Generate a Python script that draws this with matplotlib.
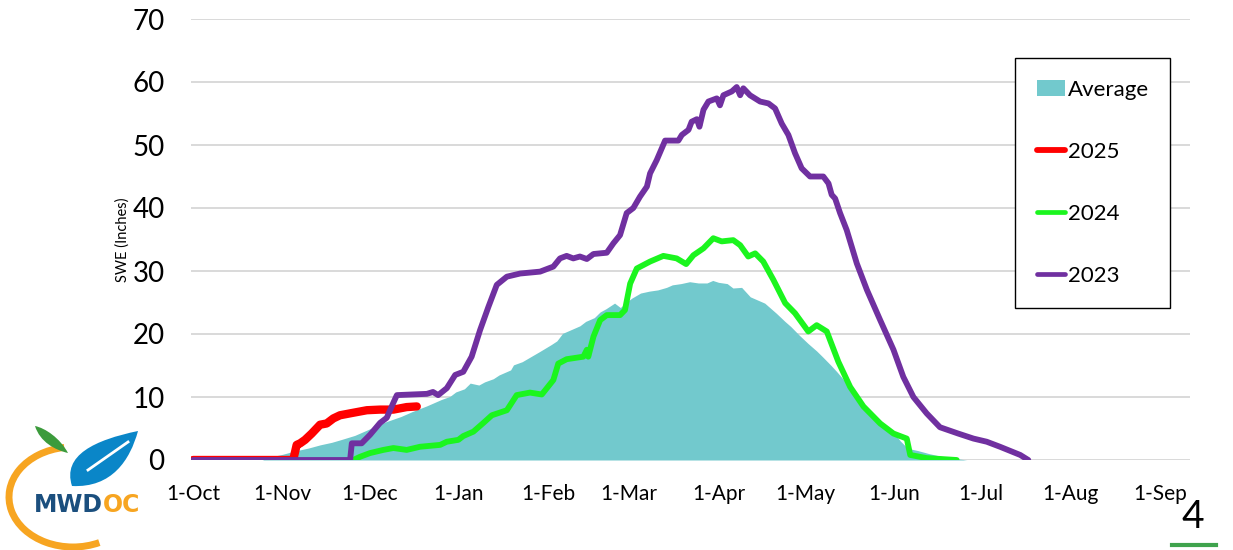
import matplotlib
matplotlib.use("Agg")
import matplotlib.pyplot as plt
from matplotlib.patches import Patch, Arc, PathPatch
from matplotlib.path import Path
from matplotlib.lines import Line2D

# days since 1-Oct
tick_days = [0, 31, 61, 92, 123, 151, 182, 212, 243, 273, 304, 335]
tick_labels = ["1-Oct", "1-Nov", "1-Dec", "1-Jan", "1-Feb", "1-Mar",
               "1-Apr", "1-May", "1-Jun", "1-Jul", "1-Aug", "1-Sep"]

avg_days = [0, 24, 27, 31, 35, 40, 44, 48, 51, 56, 60, 64, 67, 72, 76, 81, 86, 89,
            91, 94, 96, 99, 101, 104, 106, 110, 111, 114, 117, 120, 124, 126, 128,
            130, 132, 134, 136, 139, 141, 143, 146, 148, 150, 152, 155, 158, 161,
            164, 166, 169, 172, 175, 178, 180, 182, 185, 187, 190, 193, 196, 198,
            202, 205, 207, 210, 213, 216, 218, 221, 223, 226, 228, 230, 232, 235,
            237, 240, 243, 245, 247, 249, 251, 255, 259, 263, 268, 345]
avg_swe = [0, 0, 0.5, 0.9, 1.4, 1.9, 2.4, 2.8, 3.2, 3.9, 4.7, 5.5, 6.1, 6.9, 7.7, 8.6,
           9.6, 10.1, 10.8, 11.3, 12.2, 11.9, 12.4, 12.9, 13.5, 14.3, 15.1, 15.6,
           16.4, 17.2, 18.3, 18.9, 20.1, 20.5, 20.9, 21.3, 22.0, 22.6, 23.5, 24.0,
           24.9, 24.2, 25.0, 25.7, 26.5, 26.8, 27.0, 27.4, 27.8, 28.0, 28.3, 28.1,
           28.1, 28.5, 28.2, 28.0, 27.3, 27.4, 25.9, 25.3, 24.9, 23.3, 22.0, 21.2,
           19.8, 18.5, 17.3, 16.4, 15.0, 14.0, 12.4, 11.6, 10.2, 9.0, 7.5, 6.6, 5.2,
           4.2, 3.0, 2.1, 1.7, 1.5, 1.0, 0.6, 0.3, 0, 0]

wy2025_days = [0, 34.7, 35.9, 37.1, 38.8, 41.1, 44.0, 46.3, 48.6, 50.9, 55.5, 60.2,
               64.8, 69.4, 74.0, 77.5]
wy2025_swe = [0, 0, 2.4, 2.65, 3.2, 4.2, 5.6, 5.8, 6.6, 7.1, 7.5, 7.9, 8.0, 8.0,
              8.4, 8.5]

wy2024_days = [55.5, 57.8, 61.3, 65.9, 69.4, 74.0, 78.6, 85.6, 87.9, 91.9, 93.6, 97.1,
               100.6, 103.5, 108.7, 112.1, 116.7, 120.8, 124.8, 126.5, 129.4, 135.2,
               136.4, 136.9, 138.7, 141, 143.3, 147.9, 149.6, 151.4, 153.7, 158.3,
               162.9, 167.5, 170.8, 173.3, 176.8, 180.2, 183.1, 187.1, 189.5, 192.3,
               194.7, 197.5, 201.0, 205.1, 208.5, 213.1, 216.0, 219.5, 223.5, 227.6,
               232.2, 238.0, 242.6, 247.2, 248.4, 254.1, 264.5]
wy2024_swe = [0, 0.5, 1.1, 1.6, 1.9, 1.6, 2.1, 2.4, 2.9, 3.2, 3.8, 4.5, 5.9, 7.1, 7.9,
              10.3, 10.7, 10.4, 12.7, 15.3, 16.0, 16.4, 17.5, 16.4, 19.6, 22.2, 23.0,
              23.0, 23.8, 28.0, 30.4, 31.5, 32.4, 32.0, 31.1, 32.5, 33.6, 35.2, 34.7,
              34.9, 34.1, 32.3, 32.8, 31.5, 28.6, 24.9, 23.3, 20.4, 21.4, 20.4, 15.6,
              11.6, 8.5, 5.8, 4.2, 3.4, 0.8, 0.3, 0]

wy2023_days = [0, 54.4, 55, 58.4, 61.3, 64.8, 67.1, 69.3, 70.6, 81, 83.1, 84.9, 87.9,
               90.8, 93.6, 96.5, 99.4, 102.3, 105.2, 108.7, 113.3, 120.2, 124.8, 127.1,
               129.4, 131.7, 134, 136.4, 138.7, 143.3, 145.6, 147.9, 150.2, 152.5,
               154.8, 157.2, 158.3, 160.6, 163.5, 168.1, 169.3, 171.6, 172.7, 174.5,
               175.4, 176.8, 178.5, 181.4, 182.5, 183.7, 186.6, 188.3, 189.5, 190.6,
               192.9, 196.4, 199.3, 201.6, 203.9, 206.2, 208.5, 210.8, 213.7, 218.3,
               220.1, 221.2, 222.4, 224.1, 226.4, 229.9, 233.4, 238.0, 242.6, 246.0,
               249.5, 254.1, 258.7, 265, 270.3, 274.9, 279.5, 286.5, 289.3]
wy2023_swe = [0, 0, 2.65, 2.65, 4.0, 5.9, 6.7, 9.0, 10.3, 10.5, 10.8, 10.3, 11.4,
              13.5, 14.0, 16.4, 20.6, 24.3, 27.8, 29.1, 29.6, 29.9, 30.7, 32.0, 32.4,
              32.0, 32.3, 31.9, 32.7, 32.9, 34.4, 35.7, 39.2, 40.0, 41.8, 43.4, 45.5,
              47.6, 50.7, 50.7, 51.6, 52.4, 53.7, 54.1, 52.9, 55.6, 56.9, 57.4, 56.3,
              57.9, 58.5, 59.2, 57.9, 59.0, 57.9, 56.9, 56.6, 55.8, 53.4, 51.6, 48.7,
              46.3, 45.0, 45.0, 43.9, 42.1, 41.5, 39.2, 36.5, 31.2, 27.0, 22.2, 17.5,
              13.2, 10.0, 7.4, 5.2, 4.2, 3.4, 2.9, 2.1, 0.8, 0]

AVG_C = "#72C9CD"
RED = "#FF0000"
GREEN = "#1BF51E"
PURPLE = "#7030A0"

plt.rcParams["font.family"] = ["Lato", "DejaVu Sans"]

fig = plt.figure(figsize=(12.33, 5.5), dpi=100)
ax = fig.add_axes([191 / 1233, 1 - 460 / 550, 999 / 1233, 441 / 550])

ax.fill_between(avg_days, avg_swe, 0, color=AVG_C, lw=0, zorder=2)
kw = dict(solid_capstyle="round", solid_joinstyle="round")
ax.plot(wy2025_days, wy2025_swe, color=RED, lw=6, zorder=3, **kw)
ax.plot(wy2024_days, wy2024_swe, color=GREEN, lw=4.2, zorder=4, **kw)
ax.plot(wy2023_days, wy2023_swe, color=PURPLE, lw=4.2, zorder=5, **kw)

ax.set_xlim(-0.7, 345.3)
ax.set_ylim(0, 70)
ax.set_yticks(range(0, 71, 10))
ax.set_xticks(tick_days)
ax.set_xticklabels(tick_labels)
ax.tick_params(axis="x", length=0, pad=17, labelsize=15)
ax.tick_params(axis="y", length=0, pad=19, labelsize=20)
ax.grid(axis="y", color="#D9D9D9", lw=1.4, zorder=0)
ax.set_axisbelow(True)
for s in ax.spines.values():
    s.set_visible(False)

ax.set_ylabel("SWE (Inches)", fontsize=10.5)
ax.yaxis.set_label_coords(-0.061, 0.5)

handles = [Patch(facecolor=AVG_C, edgecolor="none"),
           Line2D([], [], color=RED, lw=4.2, solid_capstyle="round"),
           Line2D([], [], color=GREEN, lw=3.4, solid_capstyle="round"),
           Line2D([], [], color=PURPLE, lw=3.4, solid_capstyle="round")]
leg = ax.legend(handles, ["Average", "2025", "2024", "2023"],
                loc="upper left", bbox_to_anchor=(1015 / 1233, 1 - 58 / 550),
                bbox_transform=fig.transFigure, borderaxespad=0,
                fontsize=16, fancybox=False, frameon=True, edgecolor="black",
                framealpha=1, labelspacing=1.9, borderpad=0.97,
                handlelength=1.3, handletextpad=0.1)
leg.get_frame().set_linewidth(1.0)

# logo, page number (pixel coordinates, y up)
deco = fig.add_axes([0, 0, 1, 1], zorder=-1)
deco.set_xlim(0, 1233)
deco.set_ylim(0, 550)
deco.axis("off")
deco.add_patch(Arc((73, 53), 128, 100, theta1=100, theta2=300,
                   color="#F7A521", lw=5))
C4 = Path.CURVE4
green_leaf = Path([(68, 97), (60, 112), (45, 122), (35, 124),
                   (40, 108), (55, 100), (68, 97)],
                  [Path.MOVETO, C4, C4, C4, C4, C4, C4])
blue_leaf = Path([(72, 64), (62, 95), (95, 110), (138, 119),
                  (130, 90), (112, 62), (72, 64)],
                 [Path.MOVETO, C4, C4, C4, C4, C4, C4])
deco.add_patch(PathPatch(green_leaf, color="#3C9B3C", lw=0))
deco.add_patch(PathPatch(blue_leaf, color="#0A86C8", lw=0))
deco.plot([88, 128], [80, 108], color="white", lw=2)
deco.text(103, 45, "MWD", color="#1B4F7E", fontsize=17, fontweight="bold",
          family="DejaVu Sans", ha="right", va="center")
deco.text(103, 45, "OC", color="#F7A521", fontsize=17, fontweight="bold",
          family="DejaVu Sans", ha="left", va="center")
deco.text(1193, 33, "4", fontsize=28, ha="center", va="center")
deco.plot([1172, 1216], [5, 5], color="#3FA34D", lw=3)

fig.savefig("out.png", dpi=100)
